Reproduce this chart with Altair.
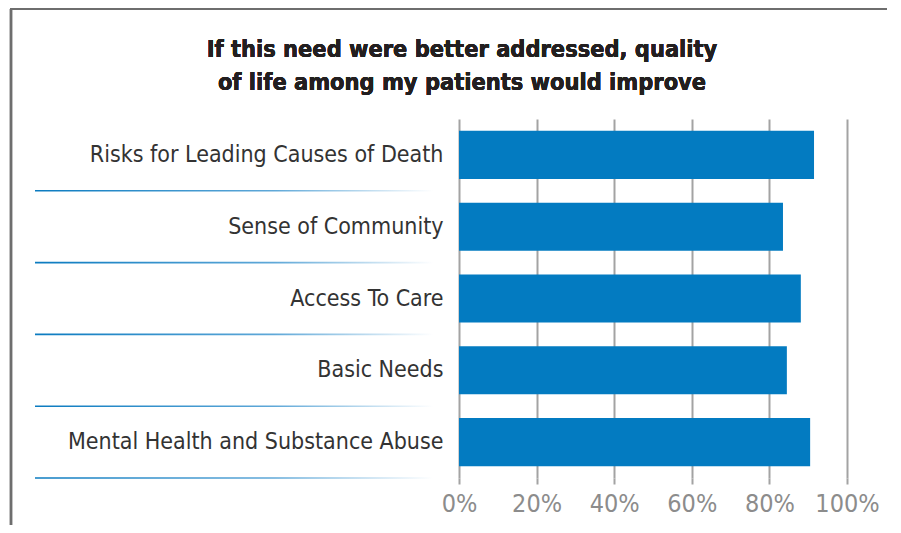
import altair as alt
import pandas as pd

needs = [
    "Risks for Leading Causes of Death",
    "Sense of Community",
    "Access To Care",
    "Basic Needs",
    "Mental Health and Substance Abuse",
]
share = [0.915, 0.835, 0.881, 0.845, 0.905]
tick_values = [0, 0.2, 0.4, 0.6, 0.8, 1.0]
title_lines = ["If this need were better addressed, quality",
               "of life among my patients would improve"]

df = pd.DataFrame({"need": needs, "share": share})

FONT = "DejaVu Sans Condensed"
BLUE = "#037bc1"

yscale = alt.Scale(domain=needs, paddingInner=0.33, paddingOuter=0.165)

bars = alt.Chart(df).mark_bar(color=BLUE).encode(
    x=alt.X(
        "share:Q",
        scale=alt.Scale(domain=[0, 1], nice=False),
        axis=alt.Axis(
            values=tick_values,
            format="%",
            title=None,
            grid=True,
            gridColor="#a3a3a3",
            gridWidth=2,
            ticks=True,
            tickSize=6,
            tickColor="#a3a3a3",
            tickWidth=2,
            domain=False,
            labelFont=FONT,
            labelFontSize=25,
            labelColor="#8c8c8c",
            labelPadding=7,
            labelOverlap=False,
            labelFlush=False,
        ),
    ),
    y=alt.Y(
        "need:N",
        sort=needs,
        scale=yscale,
        axis=alt.Axis(
            title=None,
            domain=False,
            ticks=False,
            grid=False,
            labelFont=FONT,
            labelFontSize=23,
            labelColor="#333333",
            labelPadding=16,
            labelLimit=600,
        ),
    ),
)

grad = alt.LinearGradient(
    gradient="linear",
    stops=[
        alt.GradientStop(color="#0b7bc0", offset=0),
        alt.GradientStop(color="#5fa8d8", offset=0.6),
        alt.GradientStop(color="#ffffff", offset=1),
    ],
    x1=0, x2=1, y1=0, y2=0,
)

separators = alt.Chart(df).mark_bar(color=grad, height=1.6, yOffset=35.9).encode(
    y=alt.Y("need:N", sort=needs, scale=yscale),
    x=alt.value(-424),
    x2=alt.value(-26),
)

frame_left = alt.Chart(df).mark_rule(color="#6e6e6e", strokeWidth=2.2).encode(
    x=alt.value(-448), y=alt.value(-110), y2=alt.value(430)
)
frame_top = alt.Chart(df).mark_rule(color="#6e6e6e", strokeWidth=2.2).encode(
    x=alt.value(-449), x2=alt.value(460), y=alt.value(-110)
)

title = alt.Chart(df).mark_text(
    text=title_lines,
    font=FONT,
    fontSize=23.4,
    fontWeight="bold",
    color="#231f20",
    align="center",
    baseline="alphabetic",
    lineHeight=33,
).encode(x=alt.value(3), y=alt.value(-62))

chart = (
    alt.layer(separators, bars, frame_left, frame_top, title)
    .properties(
        width=388,
        height=359,
        autosize=alt.AutoSizeParams(type="none"),
        padding={"left": 451, "top": 111, "right": 40, "bottom": 47},
    )
    .configure_view(stroke=None)
)

chart.save("out.html", embed_options={"renderer": "svg", "actions": False})
